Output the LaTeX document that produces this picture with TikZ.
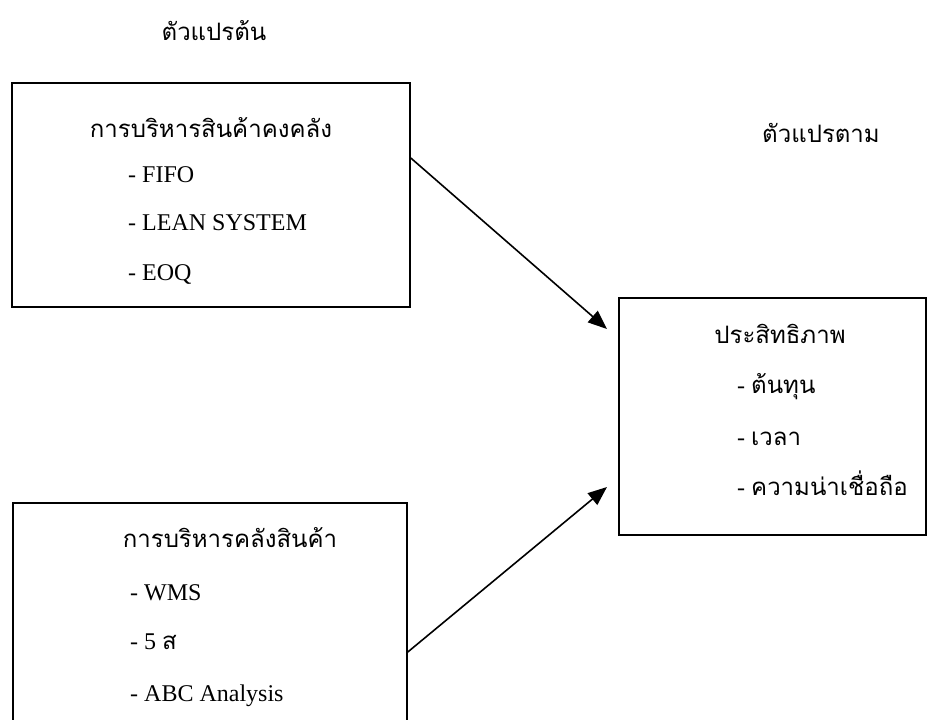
\documentclass[tikz,border=0pt]{standalone}
\usepackage{fontspec}
\setmainfont{Liberation Serif}
\newfontfamily\thaifont[Script=Thai]{Loma}
\usepackage{tikz}
\usetikzlibrary{positioning,arrows.meta}

\begin{document}
\begin{tikzpicture}[
x=1pt,y=-1pt,
box/.style={
	draw,
	line width=1.6pt,
	inner sep=0pt
},
item/.style={
	anchor=base west,
	inner sep=0pt,
	font=\fontsize{24}{28}\selectfont
},
head/.style={
	anchor=base,
	inner sep=0pt,
	font=\thaifont\fontsize{24}{28}\selectfont
},
link/.style={
	line width=1.6pt,
	-{Triangle[length=19pt,width=15pt]}
}
]
\useasboundingbox (0,0) rectangle (930,720);
\clip (0,0) rectangle (930,720);

% headings
\node[head] (indep) at (214,41) {ตัวแปรต้น};
\node[head] (dep) at (821,142) {ตัวแปรตาม};

% boxes
\node[box,minimum width=398pt,minimum height=224pt] (stock) at (211,195) {};
\node[box,minimum width=394pt,minimum height=257pt] (store) at (210,631.5) {};
\node[box,minimum width=307pt,minimum height=237pt] (effic) at (772.5,416.5) {};

\node[head] (stockt) at (211,137) {การบริหารสินค้าคงคลัง};
\node[item] (fifo) at (128,182) {- FIFO};
\node[item] (lean) at (128,230) {- LEAN SYSTEM};
\node[item] (eoq) at (128,280) {- EOQ};

\node[head] (storet) at (230,547) {การบริหารคลังสินค้า};
\node[item] (wms) at (130,600) {- WMS};
\node[item] (fives) at (130,649) {- 5 {\thaifont ส}};
\node[item] (abc) at (130,701) {- ABC Analysis};

\node[head] (effict) at (780,343) {ประสิทธิภาพ};
\node[item] (cost) at (737,393) {- {\thaifont ต้นทุน}};
\node[item] (time) at (737,445) {- {\thaifont เวลา}};
\node[item] (trust) at (737,495) {- {\thaifont ความน่าเชื่อถือ}};

\coordinate (tip1) at (607,329);
\coordinate (tip2) at (607,487);

\draw[link] ([yshift=37pt]stock.east) -- (tip1);
\draw[link] ([yshift=-20.5pt]store.east) -- (tip2);

\end{tikzpicture}
\end{document}
